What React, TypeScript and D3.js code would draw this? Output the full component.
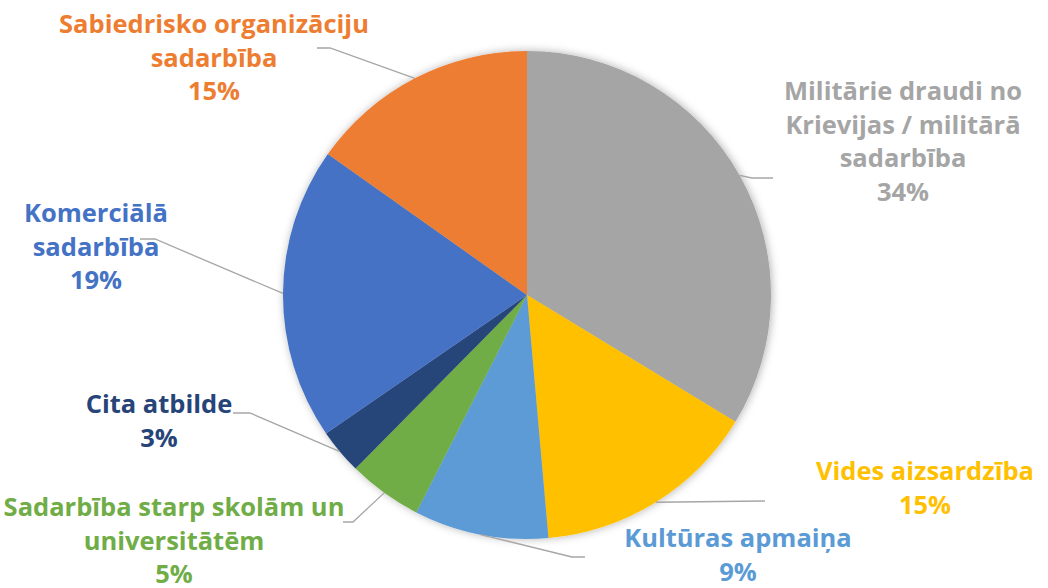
import React, { useRef, useEffect } from 'react';
import * as d3 from 'd3';

// slices in drawing order, clockwise from 12 o'clock
const categories = [
  'Militārie draudi no Krievijas / militārā sadarbība',
  'Vides aizsardzība',
  'Kultūras apmaiņa',
  'Sadarbība starp skolām un universitātēm',
  'Cita atbilde',
  'Komerciālā sadarbība',
  'Sabiedrisko organizāciju sadarbība',
];
const values = [33.7, 14.9, 8.9, 4.9, 3.0, 19.4, 15.2];
const colors = ['#A5A5A5', '#FFC000', '#5B9BD5', '#70AD47', '#264478', '#4472C4', '#ED7D31'];

// how each label is broken into lines
const labelLines = [
  ['Militārie draudi no', 'Krievijas / militārā', 'sadarbība'],
  ['Vides aizsardzība'],
  ['Kultūras apmaiņa'],
  ['Sadarbība starp skolām un', 'universitātēm'],
  ['Cita atbilde'],
  ['Komerciālā', 'sadarbība'],
  ['Sabiedrisko organizāciju', 'sadarbība'],
];

// label placement + leader line bends (layout only)
const labelLayout = [
  { x: 903, y: 100, elbow: [752, 178], end: [773, 178] },
  { x: 925, y: 480, elbow: null, end: [765, 501] },
  { x: 738, y: 547, elbow: [572, 557], end: [585, 557] },
  { x: 174, y: 516, elbow: [353, 522], end: [343, 522] },
  { x: 159, y: 413, elbow: [250, 413], end: [233, 413] },
  { x: 96, y: 222, elbow: [155, 239], end: [140, 239] },
  { x: 214, y: 33, elbow: [330, 48], end: [317, 48] },
];

const W = 1048;
const H = 588;
const cx = 527;
const cy = 295;
const radius = 244;
const lineH = 33.5;

function App() {
  const ref = useRef<SVGSVGElement>(null);

  useEffect(() => {
    const svg = d3.select(ref.current);
    svg.selectAll('*').remove();

    const defs = svg.append('defs');
    defs.append('filter')
      .attr('id', 'pieShadow')
      .attr('x', '-10%').attr('y', '-10%')
      .attr('width', '120%').attr('height', '120%')
      .append('feDropShadow')
      .attr('dx', 1).attr('dy', 0)
      .attr('stdDeviation', 4)
      .attr('flood-color', '#000')
      .attr('flood-opacity', 0.3);

    const data = values.map((v, i) => ({ value: v, name: categories[i], i }));
    const pie = d3.pie<any>().sort(null).value((d) => d.value);
    const arcs = pie(data);

    const arc = d3.arc<any>().innerRadius(0).outerRadius(radius);
    const edge = d3.arc<any>().innerRadius(radius).outerRadius(radius);

    const g = svg.append('g').attr('transform', 'translate(' + cx + ',' + cy + ')');

    g.append('g')
      .attr('filter', 'url(#pieShadow)')
      .selectAll('path')
      .data(arcs)
      .join('path')
      .attr('d', arc)
      .attr('fill', (d) => colors[d.data.i]);

    // leader lines
    svg.append('g')
      .selectAll('path')
      .data(arcs)
      .join('path')
      .attr('fill', 'none')
      .attr('stroke', '#A6A6A6')
      .attr('stroke-width', 1.3)
      .attr('d', (d) => {
        const c = edge.centroid(d);
        const lay = labelLayout[d.data.i];
        const pts: [number, number][] = [[c[0] + cx, c[1] + cy]];
        if (lay.elbow) pts.push(lay.elbow as [number, number]);
        pts.push(lay.end as [number, number]);
        return d3.line()(pts);
      });

    // labels
    const labels = svg.append('g')
      .selectAll('text')
      .data(arcs)
      .join('text')
      .attr('text-anchor', 'middle')
      .attr('font-family', '"Open Sans", sans-serif')
      .attr('font-weight', 700)
      .attr('font-size', 25.5)
      .attr('fill', (d) => colors[d.data.i])
      .attr('x', (d) => labelLayout[d.data.i].x)
      .attr('y', (d) => labelLayout[d.data.i].y);

    labels.each(function (d) {
      const t = d3.select(this);
      const lines = [...labelLines[d.data.i], Math.round(d.data.value) + '%'];
      lines.forEach((ln, k) => {
        t.append('tspan')
          .attr('x', labelLayout[d.data.i].x)
          .attr('dy', k === 0 ? 0 : lineH)
          .text(ln);
      });
    });
  }, []);

  return (
    <svg
      ref={ref}
      width={W}
      height={H}
      style={{ position: 'absolute', left: 0, top: 0, background: '#fff' }}
    />
  );
}

export default App;
